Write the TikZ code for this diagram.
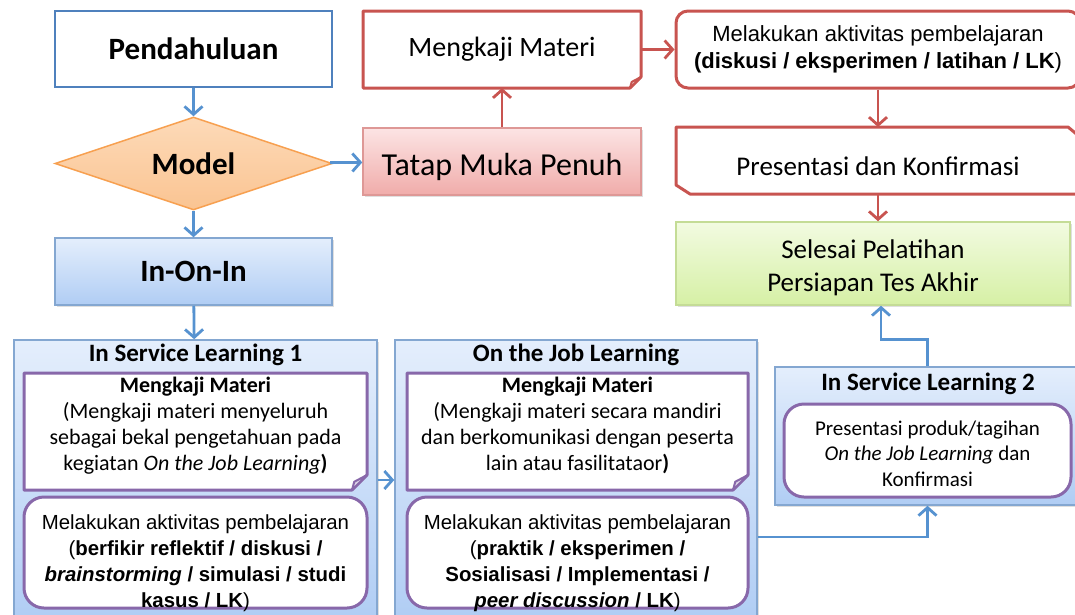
\documentclass[tikz,border=0pt]{standalone}
\usepackage{fontspec}
\setmainfont{Carlito}
\newfontfamily\arialfont{Liberation Sans}
\usetikzlibrary{shapes.geometric}
\usetikzlibrary{arrows.meta}
\usetikzlibrary{shadows}
\usetikzlibrary{calc}

\definecolor{blueline}{RGB}{79,129,189}
\definecolor{bluearrow}{RGB}{86,146,208}
\definecolor{bluetop}{RGB}{228,238,252}
\definecolor{bluebot}{RGB}{176,205,244}
\definecolor{redline}{RGB}{200,84,80}
\definecolor{pinktop}{RGB}{252,228,228}
\definecolor{pinkbot}{RGB}{240,172,170}
\definecolor{orangeline}{RGB}{247,160,80}
\definecolor{orangetop}{RGB}{253,218,184}
\definecolor{orangebot}{RGB}{250,196,146}
\definecolor{greenline}{RGB}{196,220,150}
\definecolor{greentop}{RGB}{242,251,225}
\definecolor{greenbot}{RGB}{214,240,165}
\definecolor{purpline}{RGB}{136,104,170}

\pgfdeclarelayer{bg}
\pgfdeclarelayer{mid}
\pgfsetlayers{bg,mid,main}

\tikzset{>={Straight Barb[length=8pt,width=18pt]}}
\tikzset{
  every node/.style={align=center, inner sep=0pt},
  boxshadow/.style={drop shadow={shadow xshift=2pt, shadow yshift=-2pt, opacity=0.25}},
  bluebox/.style={draw=blueline, line width=2.5pt, fill=white},
  bluegrad/.style={draw=blueline!70, line width=1.5pt, top color=bluetop, bottom color=bluebot, boxshadow},
  modelbox/.style={diamond, aspect=3, draw=orangeline, line width=1.5pt, top color=orangetop, bottom color=orangebot},
  pinkgrad/.style={draw=redline!60, line width=1.5pt, top color=pinktop, bottom color=pinkbot, boxshadow},
  greengrad/.style={draw=greenline, line width=1.5pt, top color=greentop, bottom color=greenbot, boxshadow},
  redbox/.style={draw=redline, line width=3pt, fill=white},
  plainbox/.style={outer sep=0pt},
  roundbox/.style={rounded corners=20pt, draw=purpline, line width=3pt, fill=white},
  container/.style={draw=blueline!70, line width=1.5pt, top color=bluetop, bottom color=bluebot, boxshadow},
  bluearr/.style={->, draw=bluearrow, line width=2.8pt},
  redarr/.style={->, draw=redline, line width=2.8pt},
  headfont/.style={font=\bfseries\fontsize{31}{36}\selectfont},
  titlefont/.style={font=\bfseries\fontsize{25}{28}\selectfont},
  notefont/.style={font=\fontsize{22}{26}\selectfont, text height=82pt, text depth=5pt},
  arialtext/.style={font=\arialfont\fontsize{20.4}{26}\selectfont, text height=110pt, text depth=1pt},
}

% note outline with a folded corner, drawn behind the node text
\newcommand\dogear[3]{%
  \begin{pgfonlayer}{mid}
  \coordinate (#1-c) at (#1.north east |- #1.south west);
  \filldraw[draw=#2, fill=white, line width=3pt, line join=round]
    (#1.north west) -- (#1.north east) -- ($(#1-c)+(0,#3)$) -- ($(#1-c)+(-#3,0)$) -- (#1.south west) -- cycle;
  \filldraw[draw=#2, fill=#2!30, line width=2pt, line join=round]
    ($(#1-c)+(0,#3)$) -- ($(#1-c)+(-#3,0)$) -- ($(#1-c)+(-0.85*#3,0.55*#3)$) -- cycle;
  \end{pgfonlayer}
}

\begin{document}
\begin{tikzpicture}[x=1pt,y=-1pt]
  \useasboundingbox (0,0) rectangle (1075,614);

  % left column
  \node[bluebox, headfont, minimum width=277pt, minimum height=76pt] (pend) at (193.5,49) {Pendahuluan};
  \node[modelbox, headfont, minimum width=277pt, minimum height=93pt] (model) at (193.5,163.5) {Model};
  \node[bluegrad, headfont, minimum width=277pt, minimum height=67pt] (inon) at (193.5,271.5) {In-On-In};

  % tatap muka branch
  \node[pinkgrad, font=\fontsize{32}{36}\selectfont, text height=34pt, text depth=6pt, minimum width=278pt, minimum height=67pt] (tatap) at (502,161.5) {Tatap Muka Penuh};
  \node[plainbox, font=\fontsize{28}{32}\selectfont, minimum width=278pt, minimum height=77pt] (mengk) at (502,49.5) {Mengkaji Materi};
  \dogear{mengk}{redline}{11pt}
  \node[redbox, rounded corners=12pt, font=\arialfont\fontsize{22}{27}\selectfont, minimum width=404pt, minimum height=77pt] (melak) at (878,49.5)
    {Melakukan aktivitas pembelajaran\\\textbf{(diskusi / eksperimen / latihan / LK})};
  \node[plainbox, font=\fontsize{27}{32}\selectfont, text height=29.5pt, text depth=0pt, minimum width=404pt, minimum height=67pt] (pres) at (878,160.5) {Presentasi dan Konfirmasi};
  \begin{pgfonlayer}{mid}
    \filldraw[draw=redline, fill=white, line width=3pt, line join=round]
      (pres.north west) -- ($(pres.north east)+(-12pt,0)$) -- ($(pres.north east)+(0,-10pt)$) -- (pres.south east)
      -- ($(pres.south west)+(14pt,0)$) -- ($(pres.south west)+(0,9pt)$) -- cycle;
  \end{pgfonlayer}
  \node[greengrad, font=\fontsize{27}{33}\selectfont, text height=62pt, text depth=6pt, minimum width=394pt, minimum height=83pt] (seles) at (873,263.5) {Selesai Pelatihan\\Persiapan Tes Akhir};

  % containers
  \begin{pgfonlayer}{bg}
    \node[container, minimum width=363pt, minimum height=280pt] (isl1) at (195.5,480) {};
    \node[container, minimum width=362pt, minimum height=280pt] (ojl) at (576,480) {};
    \node[container, minimum width=305pt, minimum height=138pt] (isl2) at (927.5,436) {};
  \end{pgfonlayer}

  % in service learning 1
  \node[titlefont] (isl1t) at (195.5,355) {In Service Learning 1};
  \node[plainbox, notefont, minimum width=343pt, minimum height=117pt] (isl1a) at (195.5,431.5)
    {\textbf{Mengkaji Materi}\\(Mengkaji materi menyeluruh\\sebagai bekal pengetahuan pada\\kegiatan \textit{On the Job Learning}\textbf{)}};
  \dogear{isl1a}{purpline}{15pt}
  \node[roundbox, arialtext, minimum width=343pt, minimum height=111pt] (isl1b) at (195.5,552.5)
    {Melakukan aktivitas pembelajaran\\(\textbf{berfikir reflektif / diskusi /}\\\textbf{\textit{brainstorming} / simulasi / studi}\\\textbf{kasus / LK})};

  % on the job learning
  \node[titlefont] (ojlt) at (576,355) {On the Job Learning};
  \node[plainbox, notefont, minimum width=341pt, minimum height=117pt] (ojla) at (577.5,431.5)
    {\textbf{Mengkaji Materi}\\(Mengkaji materi secara mandiri\\dan berkomunikasi dengan peserta\\lain atau fasilitataor\textbf{)}};
  \dogear{ojla}{purpline}{15pt}
  \node[roundbox, arialtext, minimum width=341pt, minimum height=111pt] (ojlb) at (577.5,552.5)
    {Melakukan aktivitas pembelajaran\\(\textbf{praktik / eksperimen /}\\\textbf{Sosialisasi / Implementasi /}\\\textbf{\textit{peer discussion} / LK})};

  % in service learning 2
  \node[titlefont] (isl2t) at (928,384) {In Service Learning 2};
  \node[roundbox, font=\fontsize{21}{25.5}\selectfont, text height=76pt, text depth=5pt, minimum width=287pt, minimum height=93pt] (isl2a) at (927.5,450.5)
    {Presentasi produk/tagihan\\\textit{On the Job Learning} dan\\Konfirmasi};

  % connectors
  \draw[bluearr] (pend) -- (model);
  \draw[bluearr] (model) -- (inon);
  \draw[bluearr] (model) -- (tatap);
  \draw[bluearr] (inon) -- (isl1);
  \draw[redarr] (tatap) -- (mengk);
  \draw[redarr] (mengk) -- (melak);
  \draw[redarr] (melak) -- (pres);
  \draw[redarr] (pres.south) -- (pres.south |- seles.north);
  \draw[bluearr] (isl1) -- (ojl);
  \draw[bluearr] ([yshift=-57pt]ojl.east) -| (isl2.south);
  \draw[bluearr] (isl2.north) -- ++(0,-27) -| ([xshift=8pt]seles.south);
\end{tikzpicture}
\end{document}
